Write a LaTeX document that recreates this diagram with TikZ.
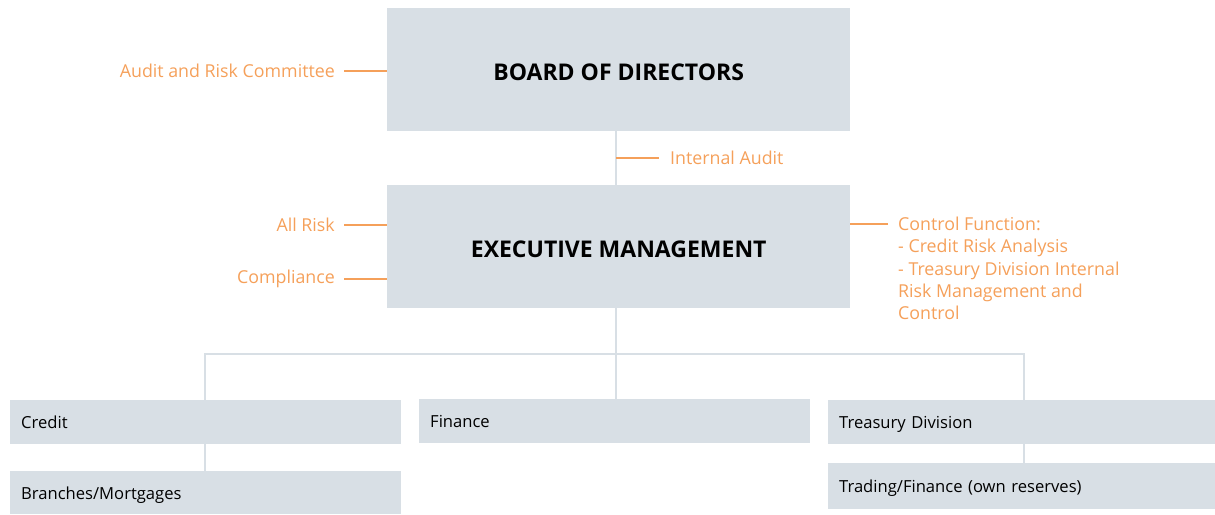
\documentclass[tikz,border=0pt]{standalone}
\usepackage{fontspec}
\setmainfont{Open Sans}
\definecolor{panel}{HTML}{D8DFE5}
\definecolor{accent}{HTML}{F5A05A}
\begin{document}
\begin{tikzpicture}[x=1pt,y=-1pt,
  panelbox/.style={fill=panel, draw=none, inner sep=0pt, anchor=north west},
  topbox/.style={panelbox, minimum width=463pt, minimum height=123pt,
    text height=21pt, text depth=0pt,
    font=\bfseries\fontsize{23}{27}\selectfont},
  unitbox/.style={panelbox, inner xsep=11pt, align=left,
    text height=13pt, text depth=0pt,
    font=\fontsize{16.6}{19}\selectfont},
  note/.style={text=accent, inner ysep=0pt, font=\fontsize{17.8}{22.4}\selectfont},
  tie/.style={draw=accent, line width=1.5pt},
  link/.style={draw=panel, line width=2.5pt}]
\useasboundingbox (0,0) rectangle (1215,514);

% main governance boxes
\node[topbox] (board) at (387,8) {BOARD OF DIRECTORS};
\node[topbox] (exec) at (387,185) {EXECUTIVE MANAGEMENT};

% business units
\node[unitbox, text width=369pt, minimum height=44pt] (credit) at (10,400) {Credit};
\node[unitbox, text width=369pt, minimum height=43pt] (branches) at (10,471) {Branches/Mortgages};
\node[unitbox, text width=369pt, minimum height=44pt] (finance) at (419,399) {Finance};
\node[unitbox, text width=365pt, minimum height=44pt] (treasury) at (828,400) {Treasury Division};
\node[unitbox, text width=365pt, minimum height=46pt] (trading) at (828,463) {Trading/Finance (own reserves)};

% reporting lines
\coordinate (busL) at (205,354);
\coordinate (busM) at (616,354);
\coordinate (busR) at (1024,354);
\draw[link] (board.south -| busM) -- (exec.north -| busM);
\draw[link] (exec.south -| busM) -- (busM);
\draw[link] (credit.north -| busL) -- (busL) -- (busR) -- (treasury.north -| busR);
\draw[link] (busM) -- (finance.north -| busM);
\draw[link] (credit.south -| busL) -- (branches.north -| busL);
\draw[link] (treasury.south -| busR) -- (trading.north -| busR);

% control functions
\node[note, anchor=east, inner xsep=9pt] (arc) at (344,71) {Audit and Risk Committee};
\draw[tie] (arc.east) -- (board.west |- arc.east);

\node[note, anchor=west, inner xsep=11pt] (ia) at (659,158) {Internal Audit};
\draw[tie] (ia.west) -- (ia.west -| busM);

\node[note, anchor=east, inner xsep=9pt] (allrisk) at (344,225) {All Risk};
\draw[tie] (allrisk.east) -- (exec.west |- allrisk.east);

\node[note, anchor=east, inner xsep=9pt] (compl) at (344,279) {Compliance};
\draw[tie] (compl.east) -- (exec.west |- compl.east);

\node[note, anchor=north west, inner xsep=10pt, align=left] (ctrl) at (888,216.5)
  {Control Function:\\- Credit Risk Analysis\\- Treasury Division Internal\\Risk Management and\\Control};
\coordinate (ctrltie) at ([yshift=-7.5pt]ctrl.north west);
\draw[tie] (ctrltie) -- (ctrltie -| exec.east);
\end{tikzpicture}
\end{document}
